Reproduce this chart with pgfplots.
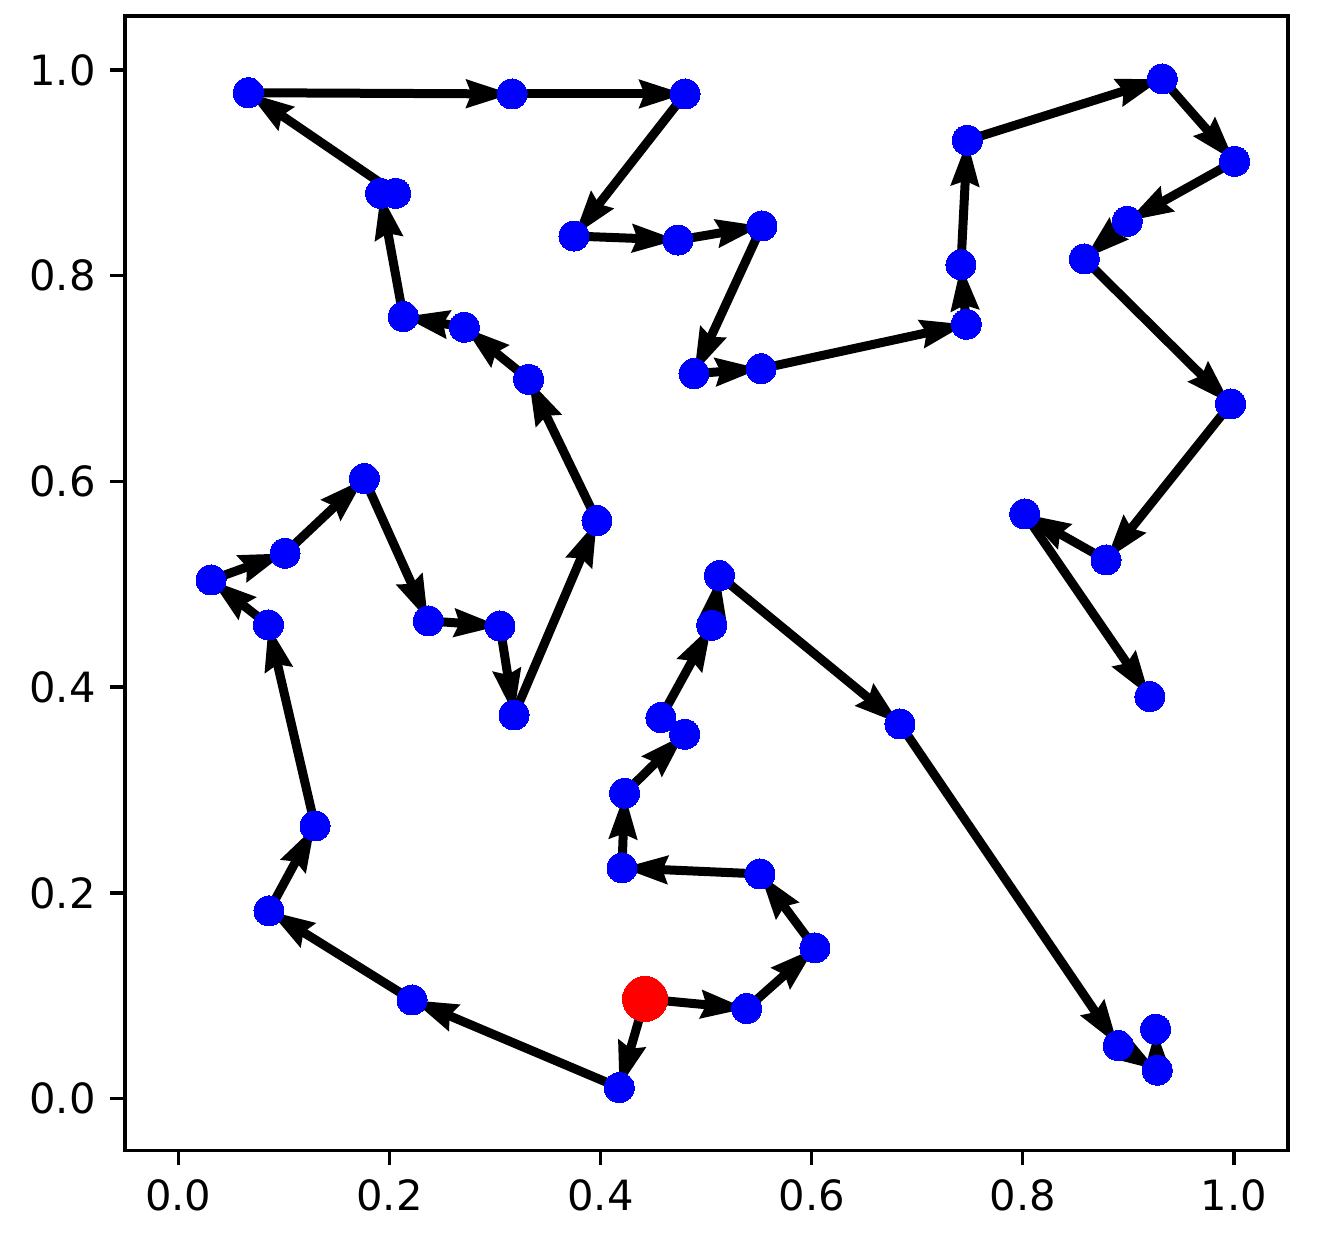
\documentclass[border=0pt]{standalone}
\usepackage{pgfplots}
\pgfplotsset{compat=1.18}
\usepackage{pgfplotstable}
\usepackage{fontspec}
\setmainfont{DejaVu Sans}
\usetikzlibrary{arrows.meta}

\pgfplotstableread{
x y u v
0.4421 0.0969 -0.0244 -0.0862
0.4177 0.0107 -0.1963 0.0852
0.2214 0.0959 -0.1355 0.0866
0.0859 0.1825 0.0436 0.0826
0.1295 0.2651 -0.0442 0.1954
0.0853 0.4605 -0.0543 0.0437
0.0310 0.5042 0.0701 0.0260
0.1011 0.5302 0.0751 0.0725
0.1762 0.6027 0.0606 -0.1383
0.2368 0.4644 0.0679 -0.0049
0.3047 0.4595 0.0133 -0.0865
0.3180 0.3730 0.0786 0.1889
0.3966 0.5619 -0.0647 0.1374
0.3319 0.6993 -0.0610 0.0506
0.2709 0.7499 -0.0578 0.0103
0.2131 0.7602 -0.0214 0.1199
0.2059 0.8801 -0.1396 0.0978
0.0663 0.9779 0.2498 -0.0012
0.3161 0.9767 0.1639 0.0000
0.4800 0.9767 -0.1052 -0.1381
0.3748 0.8386 0.0985 -0.0039
0.4733 0.8347 0.0796 0.0137
0.5529 0.8484 -0.0644 -0.1436
0.4885 0.7048 0.0635 0.0048
0.5520 0.7096 0.1944 0.0432
0.7464 0.7528 -0.0050 0.0579
0.7414 0.8107 0.0060 0.1210
0.7474 0.9317 0.1847 0.0596
0.9321 0.9913 0.0686 -0.0801
1.0007 0.9112 -0.1018 -0.0583
0.8989 0.8529 -0.0407 -0.0366
0.8582 0.8163 0.1387 -0.1410
0.9969 0.6753 -0.1181 -0.1516
0.8788 0.5237 -0.0770 0.0447
0.8018 0.5684 0.1186 -0.1776
0.4421 0.0969 0.0963 -0.0094
0.5384 0.0875 0.0647 0.0590
0.6031 0.1465 -0.0521 0.0719
0.5510 0.2184 -0.1307 0.0059
0.4203 0.2243 0.0025 0.0726
0.4228 0.2969 0.0569 0.0573
0.4572 0.3704 0.0481 0.0898
0.5053 0.4602 0.0072 0.0482
0.5125 0.5084 0.1711 -0.1442
0.6836 0.3642 0.2068 -0.3127
0.8904 0.0515 0.0369 -0.0239
0.9273 0.0276 -0.0015 0.0399
}\segments

\pgfplotstableread{
x y u v
0.1917 0.8801 0.0142 0.0000
0.4797 0.3542 -0.0225 0.0162
}\shortsegments

\pgfplotstableread{
x y
0.4177 0.0107
0.2214 0.0959
0.0859 0.1825
0.1295 0.2651
0.0853 0.4605
0.0310 0.5042
0.1011 0.5302
0.1762 0.6027
0.2368 0.4644
0.3047 0.4595
0.3180 0.3730
0.3966 0.5619
0.3319 0.6993
0.2709 0.7499
0.2131 0.7602
0.1917 0.8801
0.2059 0.8801
0.0663 0.9779
0.3161 0.9767
0.4800 0.9767
0.3748 0.8386
0.4733 0.8347
0.5529 0.8484
0.4885 0.7048
0.5520 0.7096
0.7464 0.7528
0.7414 0.8107
0.7474 0.9317
0.9321 0.9913
1.0007 0.9112
0.8989 0.8529
0.8582 0.8163
0.9969 0.6753
0.8788 0.5237
0.8018 0.5684
0.9204 0.3908
0.5384 0.0875
0.6031 0.1465
0.5510 0.2184
0.4203 0.2243
0.4228 0.2969
0.4797 0.3542
0.4572 0.3704
0.5053 0.4602
0.5125 0.5084
0.6836 0.3642
0.8904 0.0515
0.9273 0.0276
0.9258 0.0675
}\nodes

\begin{document}
\begin{tikzpicture}
\begin{axis}[
  scale only axis,
  width=279.1pt, height=272.2pt,
  xmin=-0.0505, xmax=1.0512,
  ymin=-0.0502, ymax=1.0525,
  xtick={0,0.2,0.4,0.6,0.8,1.0},
  ytick={0,0.2,0.4,0.6,0.8,1.0},
  tick pos=left,
  tick align=outside,
  major tick length=3.5pt,
  every tick/.style={black, line width=0.8pt},
  axis line style={black, line width=0.8pt},
  /pgf/number format/.cd, fixed, fixed zerofill, precision=1, assume math mode=true,
  /pgfplots/.cd,
  ticklabel style={font=\fontsize{10}{12}\selectfont},
  clip=false,
]
\addplot[black, line width=2.16pt,
  quiver={u=\thisrow{u}, v=\thisrow{v}},
  -{Stealth[length=10.8pt, width=6.5pt, inset=1.1pt]}]
  table[x=x, y=y] {\segments};
\addplot[black, line width=2.16pt,
  quiver={u=\thisrow{u}, v=\thisrow{v}}]
  table[x=x, y=y] {\shortsegments};
\addplot[only marks, mark=*, mark size=3.6pt, mark options={fill=blue, draw=blue, line width=0pt}]
  table[x=x, y=y] {\nodes};
\addplot[only marks, mark=*, mark size=5.4pt, mark options={fill=red, draw=red, line width=0pt}]
  coordinates {(0.4421,0.0969)};
\end{axis}
\path (current axis.south west) ++(-30pt,-24pt);
\path (current axis.north east) ++(7.2pt,3.84pt);
\end{tikzpicture}
\end{document}
